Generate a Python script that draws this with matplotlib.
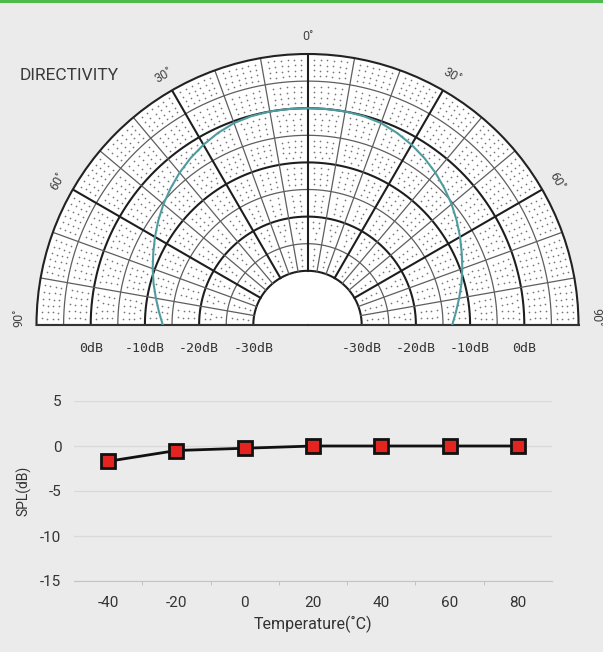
import numpy as np
import matplotlib
matplotlib.use('Agg')
import matplotlib.pyplot as plt
from matplotlib.lines import Line2D

plt.rcParams['axes.unicode_minus'] = False
BG = '#ebebeb'
FONT = ['Roboto', 'DejaVu Sans']

# ---- data ----
angles_deg = [0, 5, 10, 15, 20, 25, 30, 35, 40, 45, 50, 55, 60, 65, 70, 75, 80, 85, 90]
directivity_db = [0, 0, 0, -0.1, -0.35, -0.9, -1.6, -2.4, -3.3, -4.3, -5.3, -6.4,
                  -7.5, -8.6, -9.6, -10.6, -11.6, -12.5, -13.3]
ring_labels = ['0dB', '-10dB', '-20dB', '-30dB']
ring_label_db = [0, -10, -20, -30]
angle_labels = ["0˚", "30˚", "60˚", "90˚"]
angle_label_deg = [0, 30, 60, 90]

temps = [-40, -20, 0, 20, 40, 60, 80]
spl = [-1.7, -0.5, -0.25, 0, 0, 0, 0]
spl_ticks = [5, 0, -5, -10, -15]

W, H = 603, 652
fig = plt.figure(figsize=(W / 100, H / 100), dpi=100, facecolor=BG)
fig.add_artist(Line2D([0, 1], [1 - 1 / H] * 2, color='#4cbb4c', lw=2.2,
                      transform=fig.transFigure))

# ---- polar directivity chart ----
cx, cy, R = 307.5, 325, 271
RMIN, RMAX = -40, 10
box_cy = cy - R / 2          # half-disc is centred vertically in a square box
pax = fig.add_axes([(cx - R) / W, (H - box_cy - R) / H, 2 * R / W, 2 * R / H],
                   projection='polar')
pax.set_thetamin(-90)
pax.set_thetamax(90)
pax.set_theta_zero_location('N')
pax.set_theta_direction(-1)
pax.set_ylim(RMIN, RMAX)
pax.grid(False)
pax.set_xticks([])
pax.set_yticks([])
pax.set_facecolor('white')
pax.spines['polar'].set_linewidth(1.5)
pax.spines['polar'].set_color('#222222')
for s in ('start', 'end'):
    pax.spines[s].set_linewidth(1.5)
    pax.spines[s].set_color('#333333')
pax.spines['inner'].set_visible(False)

th = np.radians(np.linspace(-90, 90, 721))
for db in range(-30, 10, 5):
    thick = db % 10 == 0
    pax.plot(th, np.full_like(th, db), color='#1e1e1e' if thick else '#5e5e5e',
             lw=1.5 if thick else 0.9, zorder=2)
for a in range(-90, 91, 10):
    thick = a % 30 == 0
    pax.plot([np.radians(a)] * 2, [-30, RMAX], color='#1e1e1e' if thick else '#5e5e5e',
             lw=1.5 if thick else 0.9, zorder=2)
dt, dr = [], []
for db in range(-29, 10):
    if db % 5 == 0:
        continue
    rpx = (db - RMIN) / (RMAX - RMIN) * R
    k = max(1, int(round(rpx * np.radians(10) / 6.6)))
    for a0 in range(-90, 90, 10):
        for j in range(1, k):
            dt.append(np.radians(a0 + 10 * j / k))
            dr.append(db)
pax.scatter(dt, dr, s=1.5, color='#777777', linewidths=0, zorder=1)

ang_full = np.radians(np.concatenate([-np.array(angles_deg[::-1]), np.array(angles_deg[1:])]))
db_full = np.concatenate([np.array(directivity_db[::-1]), np.array(directivity_db[1:])])
pax.plot(ang_full, db_full, color='#4f9c9f', lw=1.5, zorder=3)

for lab, a in zip(angle_labels, angle_label_deg):
    sides = [0] if a == 0 else [-a, a]
    for sa in sides:
        pos = np.sign(sa) * min(abs(sa), 88.5)
        pax.text(np.radians(pos), 13.2, lab, rotation=-sa, ha='center', va='center',
                 fontsize=9, color='#444444', family=FONT, clip_on=False)

for lab, db in zip(ring_labels, ring_label_db):
    for sa in (-90, 90):
        pax.annotate(lab, xy=(np.radians(sa), db), xytext=(0, -23), textcoords='offset pixels',
                     ha='center', va='center', fontsize=9.5, color='#333333',
                     family=['DejaVu Sans Mono'], annotation_clip=False)

fig.text(20 / W, 1 - 75 / H, 'DIRECTIVITY', ha='left', va='center', fontsize=12.5,
         fontweight='normal', color='#3a3a3a', family=FONT)

# ---- temperature chart ----
ax = fig.add_axes([74 / W, 1 - 581 / H, 478 / W, 180 / H], facecolor=BG)
ax.plot(temps, spl, color='#111111', lw=2, marker='s', ms=10, mfc='#e32420',
        mec='#111111', mew=2, zorder=3, clip_on=False)
ax.set_xlim(-50, 90)
ax.set_ylim(-15, 5)
ax.set_yticks(spl_ticks)
ax.set_xticks(temps)
ax.set_xticks([-30, -10, 10, 30, 50, 70], minor=True)
ax.tick_params(axis='x', which='major', length=0, pad=11, labelsize=11, labelcolor='#333333')
ax.tick_params(axis='x', which='minor', length=3, color='#bbbbbb', direction='out')
ax.tick_params(axis='y', length=0, pad=9, labelsize=11, labelcolor='#333333')
for t in ax.get_xticklabels() + ax.get_yticklabels():
    t.set_family(FONT)
ax.grid(axis='y', color='#d9d9d9', lw=0.9)
ax.set_axisbelow(True)
for s in ('top', 'right', 'left'):
    ax.spines[s].set_visible(False)
ax.spines['bottom'].set_color('#c4c4c4')
ax.set_xlabel('Temperature(˚C)', fontsize=11.5, color='#333333', family=FONT, labelpad=4)
ax.set_ylabel('SPL(dB)', fontsize=10, color='#333333', family=FONT, labelpad=6)

fig.savefig('out.png', dpi=100, facecolor=BG)
